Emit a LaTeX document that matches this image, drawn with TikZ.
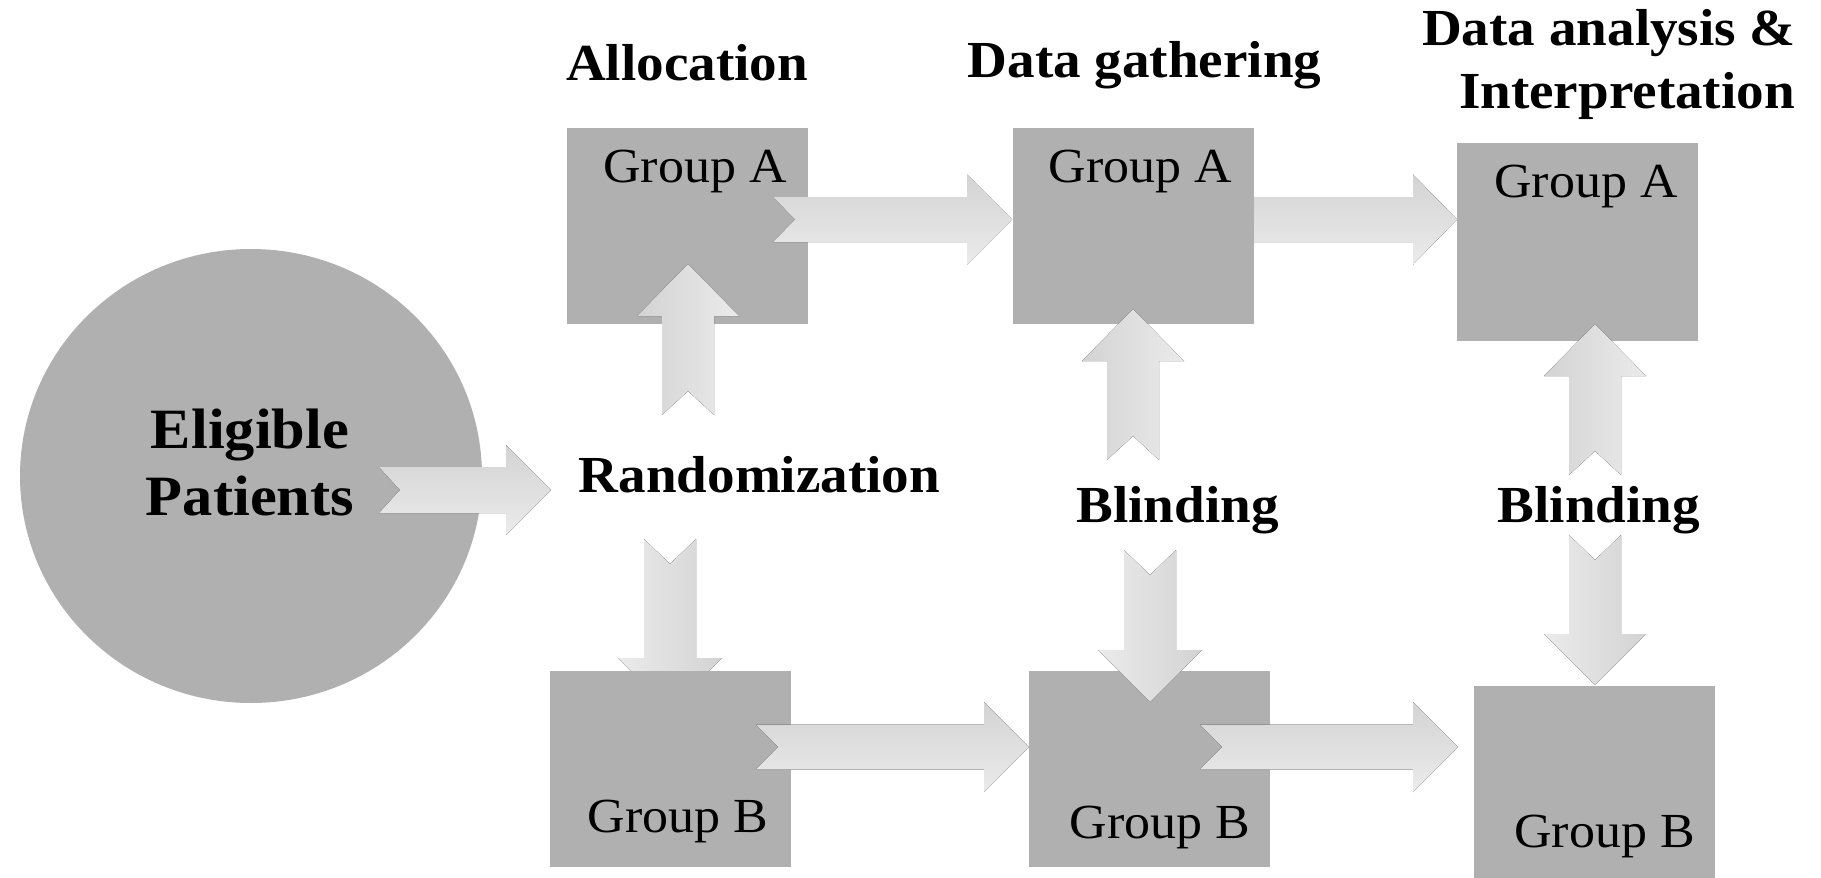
\documentclass[tikz,border=0pt]{standalone}
\usepackage{fontspec}
\setmainfont{Liberation Serif}[FakeStretch=1.06]
\usetikzlibrary{calc,shapes.geometric}
\definecolor{boxgray}{HTML}{B0B0B0}
\definecolor{arrdark}{HTML}{D3D3D3}
\definecolor{arrlight}{HTML}{EBEBEB}
% #1 style, #2 from, #3 to, #4 half shaft, #5 half head, #6 head length, #7 notch depth
\newcommand\blockarrow[7]{%
  \coordinate (hb) at ($(#3)!#6!(#2)$);
  \fill[#1] ($(#2)!#4!90:(#3)$) -- ($(#2)!#7!(#3)$) -- ($(#2)!#4!-90:(#3)$)
    -- ($(hb)!#4!-90:(#3)$) -- ($(hb)!#5!-90:(#3)$) -- (#3)
    -- ($(hb)!#5!90:(#3)$) -- ($(hb)!#4!90:(#3)$) -- cycle;
}
\begin{document}
\begin{tikzpicture}[x=1pt,y=-1pt,
  box/.style={rectangle, fill=boxgray, draw=none, inner sep=0, minimum width=241pt, minimum height=196pt},
  hlab/.style={font=\fontsize{52}{60}\selectfont\bfseries, inner sep=0, anchor=base},
  eplab/.style={font=\fontsize{57}{67}\selectfont\bfseries, inner sep=0, anchor=base},
  grp/.style={font=\fontsize{49}{57}\selectfont, inner sep=0, anchor=base},
  harr/.style={top color=arrdark, bottom color=arrlight},
  uarr/.style={left color=arrdark, right color=arrlight},
  darr/.style={left color=arrlight, right color=arrdark}]

\useasboundingbox (0,0) rectangle (1821,878);
\fill[white] (0,0) rectangle (1821,878);

% arrow end points
\coordinate (erS) at (379,490);    \coordinate (erE) at (551,490);
\coordinate (a12S) at (773,219.5); \coordinate (a12E) at (1012,219.5);
\coordinate (a23S) at (1230,219.5);\coordinate (a23E) at (1457,219.5);
\coordinate (b12S) at (756,747);   \coordinate (b12E) at (1029,747);
\coordinate (b23S) at (1200,747);  \coordinate (b23E) at (1458,747);
\coordinate (ra1S) at (688,415);   \coordinate (ra1E) at (688,264);
\coordinate (rb1S) at (670,539);   \coordinate (rb1E) at (670,710);
\coordinate (ba2S) at (1133,460);  \coordinate (ba2E) at (1133,309);
\coordinate (bb2S) at (1150,550);  \coordinate (bb2E) at (1150,702);
\coordinate (ba3S) at (1595,475);  \coordinate (ba3E) at (1595,324);
\coordinate (bb3S) at (1595,535);  \coordinate (bb3E) at (1595,685);

% arrows lying behind boxes
\blockarrow{harr}{a23S}{a23E}{22.5pt}{45pt}{44pt}{22pt}
\blockarrow{darr}{rb1S}{rb1E}{26pt}{52pt}{52pt}{25pt}

% shapes
\node[ellipse, fill=boxgray, inner sep=0, minimum width=462pt, minimum height=454pt] (ep) at (251,476) {};
\node[box] (A1) at (687.5,226) {};
\node[box] (A2) at (1133.5,226) {};
\node[box, minimum height=198pt] (A3) at (1577.5,242) {};
\node[box] (B1) at (670.5,769) {};
\node[box] (B2) at (1149.5,769) {};
\node[box, minimum height=198pt] (B3) at (1594.5,785) {};

% arrows on top
\blockarrow{harr}{erS}{erE}{23pt}{45pt}{45pt}{21pt}
\blockarrow{harr}{a12S}{a12E}{22.5pt}{45pt}{45pt}{22pt}
\blockarrow{harr}{b12S}{b12E}{22.5pt}{45pt}{45pt}{22pt}
\blockarrow{harr}{b23S}{b23E}{22.5pt}{45pt}{45pt}{22pt}
\blockarrow{uarr}{ra1S}{ra1E}{26pt}{51pt}{52pt}{24pt}
\blockarrow{uarr}{ba2S}{ba2E}{26pt}{51pt}{52pt}{24pt}
\blockarrow{uarr}{ba3S}{ba3E}{26pt}{51pt}{52pt}{24pt}
\blockarrow{darr}{bb2S}{bb2E}{26pt}{52pt}{52pt}{25pt}
\blockarrow{darr}{bb3S}{bb3E}{26pt}{51pt}{51pt}{25pt}

% texts
\node[eplab] (ep1) at (250,448) {Eligible};
\node[eplab] (ep2) at (250,515) {Patients};
\node[hlab] (hAlloc) at (687,80) {Allocation};
\node[hlab] (hGath) at (1144.5,77) {Data gathering};
\node[hlab, anchor=base east] (hAna1) at (1796,45) {Data analysis \&};
\node[hlab, anchor=base east] (hAna2) at (1795,108) {Interpretation};
\node[hlab] (rand) at (759.5,492) {Randomization};
\node[hlab] (bl1) at (1177.5,522) {Blinding};
\node[hlab] (bl2) at (1599,522) {Blinding};
\node[grp] (gA1) at (695,182) {Group A};
\node[grp] (gA2) at (1140.5,182) {Group A};
\node[grp] (gA3) at (1586,197) {Group A};
\node[grp] (gB1) at (678,832) {Group B};
\node[grp] (gB2) at (1160,838) {Group B};
\node[grp] (gB3) at (1604.5,847) {Group B};
\end{tikzpicture}
\end{document}
